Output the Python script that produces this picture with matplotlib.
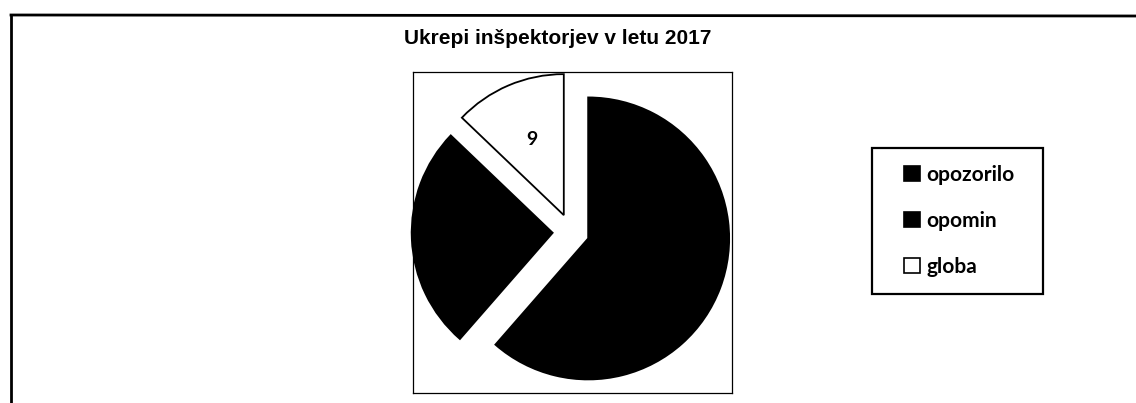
import matplotlib
matplotlib.use("Agg")
import matplotlib.pyplot as plt
from matplotlib.patches import Patch, Rectangle
from matplotlib.lines import Line2D

# ---- data ----
title = "Ukrepi inšpektorjev v letu 2017"
categories = ["opozorilo", "opomin", "globa"]
values = [43, 18, 9]
colors = ["#000000", "#000000", "#ffffff"]

# ---- layout (pixels) ----
W, H = 1136, 403
fig = plt.figure(figsize=(W / 100, H / 100), dpi=100)
fig.patch.set_facecolor("white")

def fx(px):
    return px / W

def fy(py):
    return 1 - py / H

# outer frame (top + left edges only visible)
fig.add_artist(Line2D([fx(11), fx(1136)], [fy(15), fy(16)], color="black", lw=2.0))
fig.add_artist(Line2D([fx(11), fx(11)], [fy(15), fy(403)], color="black", lw=2.0))

# plot area
pl, pr, pt, pb = 413, 732, 72, 393
ax = fig.add_axes([fx(pl), fy(pb), fx(pr - pl), (pb - pt) / H])
cx, cy, s = 571, 232, 141.0
ax.pie(values, colors=colors, startangle=90, counterclock=False,
       explode=[0.13] * len(values), radius=1.0,
       wedgeprops=dict(edgecolor="black", linewidth=1.3),
       autopct=lambda p: f"{p * sum(values) / 100:.0f}", pctdistance=0.58,
       textprops=dict(color="black", fontsize=14, fontweight="bold",
                      family=["Lato", "DejaVu Sans"]))
ax.set_aspect("auto")
ax.set_xlim((pl - cx) / s, (pr - cx) / s)
ax.set_ylim((cy - pb) / s, (cy - pt) / s)
ax.set_frame_on(True)
ax.set_xticks([])
ax.set_yticks([])
for sp in ax.spines.values():
    sp.set_visible(True)
    sp.set_color("black")
    sp.set_linewidth(0.9)

# title
fig.text(fx(558), fy(44), title, ha="center", va="baseline",
         fontsize=15, fontweight="bold", family=["Liberation Sans", "DejaVu Sans"])

# legend
fig.add_artist(Rectangle((fx(872), fy(294)), fx(1043 - 872), (294 - 148) / H,
                         transform=fig.transFigure, fill=False,
                         edgecolor="black", lw=1.6))
handles = [Patch(facecolor=c, edgecolor="black", linewidth=1.2) for c in colors]
leg = fig.legend(handles, categories, loc="upper left",
                 bbox_to_anchor=(fx(904), fy(165)), frameon=False,
                 prop=dict(family=["Lato", "DejaVu Sans"], weight="bold", size=15),
                 borderpad=0, borderaxespad=0, handlelength=0.75, handleheight=0.75,
                 handletextpad=0.33, labelspacing=1.25)

fig.savefig("out.png", dpi=100)
